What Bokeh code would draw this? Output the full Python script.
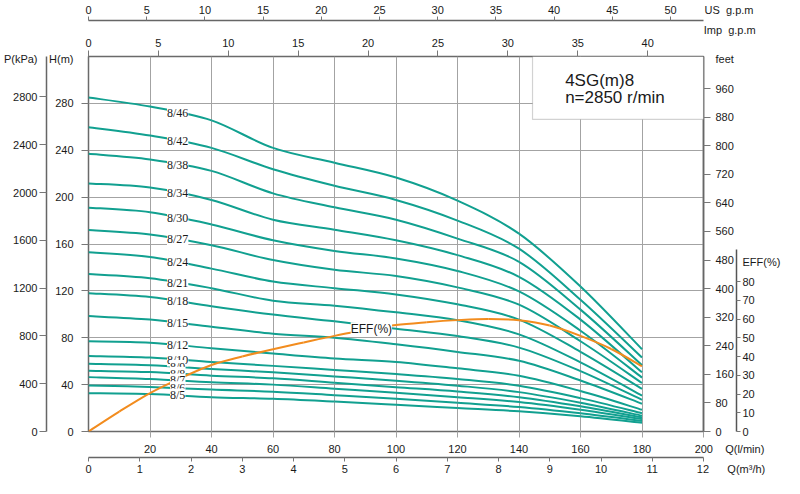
import numpy as np
from bokeh.plotting import figure
from bokeh.models import (Range1d, LinearAxis, FixedTicker, Label, LabelSet,
                          ColumnDataSource, BoxAnnotation)
from bokeh.embed import file_html
from bokeh.resources import INLINE

FONT = "Liberation Sans"
TXT = "#1a1a1a"
NB = "\u00a0"

# ---------------- data ----------------
q_lmin = [0, 20, 40, 60, 80, 100, 120, 140, 160, 180]

h_8_46 = [285.0, 277.3, 265.5, 242.0, 229.4, 216.7, 197.0, 168.8, 123.7, 70.2]
h_8_42 = [259.6, 252.5, 242.0, 223.8, 209.7, 197.6, 180.0, 156.0, 112.4, 63.1]
h_8_38 = [237.0, 232.2, 222.4, 203.2, 191.3, 180.7, 164.6, 144.8, 104.0, 56.6]
h_8_34 = [211.6, 208.2, 197.6, 180.7, 172.2, 163.2, 150.5, 132.0, 95.5, 50.5]
h_8_30 = [191.0, 187.1, 176.7, 163.2, 154.1, 147.7, 137.0, 119.5, 86.0, 46.0]
h_8_27 = [172.0, 168.2, 159.0, 146.3, 138.0, 132.7, 123.0, 108.2, 77.0, 41.4]
h_8_24 = [153.0, 149.0, 139.0, 128.0, 122.3, 117.0, 108.5, 95.5, 68.0, 36.4]
h_8_21 = [134.3, 130.8, 122.3, 111.6, 107.4, 101.7, 95.0, 82.9, 59.0, 30.7]
h_8_18 = [118.0, 114.7, 106.8, 99.8, 94.0, 87.7, 81.4, 71.6, 51.5, 27.0]
h_8_15 = [98.5, 95.5, 89.4, 83.4, 80.0, 74.4, 67.9, 60.3, 43.5, 23.7]
h_8_12 = [77.0, 75.8, 71.0, 66.5, 62.3, 59.4, 53.9, 47.6, 34.5, 18.5]
h_8_10 = [64.5, 63.1, 59.4, 56.0, 52.5, 49.0, 44.8, 39.1, 28.5, 15.5]
h_8_9 = [57.8, 56.6, 53.3, 50.5, 47.0, 43.4, 39.1, 33.6, 24.5, 13.5]
h_8_8 = [51.9, 50.7, 47.6, 45.4, 41.5, 37.8, 34.1, 29.3, 21.5, 12.0]
h_8_7 = [46.4, 44.8, 42.0, 40.0, 36.5, 33.0, 29.3, 25.1, 18.5, 10.5]
h_8_6 = [39.3, 38.0, 35.8, 34.0, 31.0, 27.9, 24.5, 20.9, 15.5, 9.0]
h_8_5 = [32.7, 31.9, 29.3, 27.9, 25.5, 22.8, 20.0, 17.2, 13.0, 7.5]

model_names = ["8/46", "8/42", "8/38", "8/34", "8/30", "8/27", "8/24", "8/21",
               "8/18", "8/15", "8/12", "8/10", "8/9", "8/8", "8/7", "8/6", "8/5"]
model_heads = [h_8_46, h_8_42, h_8_38, h_8_34, h_8_30, h_8_27, h_8_24, h_8_21,
               h_8_18, h_8_15, h_8_12, h_8_10, h_8_9, h_8_8, h_8_7, h_8_6, h_8_5]

eff_q = [0, 10, 20, 30, 40, 50, 60, 70, 80, 90, 100, 110, 120, 130, 140, 150, 160, 170, 180]
eff_pct = [0, 10.6, 20.5, 28.5, 35.5, 40.0, 43.9, 47.5, 51.0, 54.0, 56.8, 58.3, 59.4, 60.0,
           59.3, 56.5, 51.0, 44.0, 34.8]

lmin_ticks = [20, 40, 60, 80, 100, 120, 140, 160, 180, 200]
m3h_ticks = [0, 1, 2, 3, 4, 5, 6, 7, 8, 9, 10, 11, 12]
usgpm_ticks = [0, 5, 10, 15, 20, 25, 30, 35, 40, 45, 50]
impgpm_ticks = [0, 5, 10, 15, 20, 25, 30, 35, 40]
h_ticks = [0, 40, 80, 120, 160, 200, 240, 280]
kpa_ticks = [0, 400, 800, 1200, 1600, 2000, 2400, 2800]
feet_ticks = [0, 80, 160, 240, 320, 400, 480, 560, 640, 720, 800, 880, 960]
eff_ticks = [0, 10, 20, 30, 40, 50, 60, 70, 80]

title_lines = ["4SG(m)8", "n=2850 r/min"]

# unit titles, shown in the axes' label rows
t_us, t_imp = "US" + NB * 2 + "g.p.m", "Imp" + NB * 2 + "g.p.m"
t_lmin, t_m3h = "Q(l/min)", "Q(m³/h)"
t_h, t_kpa, t_feet, t_eff = "H(m)", "P(kPa)", "feet", "EFF(%)"

# ---------------- figure ----------------
W, H = 784, 478
FL, FR, FT, FB = 88, 703, 56, 431   # frame edges in canvas px

Q_MAX, H_MAX = 200, 320
US_MAX = Q_MAX / 3.785411784
IMP_MAX = Q_MAX / 4.54609
p = figure(width=W, height=H, x_range=Range1d(0, Q_MAX), y_range=Range1d(0, H_MAX),
           output_backend="svg", toolbar_location=None,
           min_border_left=FL, min_border_right=W - FR,
           min_border_top=FT, min_border_bottom=H - FB)
p.background_fill_color = "white"
p.border_fill_color = "white"
p.outline_line_color = "#6a6a6a"
p.outline_line_width = 1.5

p.extra_x_ranges = {
    "usgpm": Range1d(0, US_MAX),
    "impgpm": Range1d(0, IMP_MAX),
    "m3h": Range1d(0, Q_MAX * 60 / 1000),
}
p.extra_y_ranges = {
    "kpa": Range1d(0, H_MAX * 9.80665),
    "feet": Range1d(0, H_MAX / 0.3048),
    "eff": Range1d(0, 200),
}

GRID = "#a3a3a3"
p.xgrid.ticker = FixedTicker(ticks=[t for t in lmin_ticks if t < Q_MAX])
p.ygrid.ticker = FixedTicker(ticks=[t for t in h_ticks if t > 0])
p.xgrid.grid_line_color = GRID
p.ygrid.grid_line_color = GRID


def style_axis(ax, ticks, tick_out, standoff, line_color, title_at=None, title=None,
               tick_color="#777"):
    """Visible tick marks are drawn as minor ticks; the major ticks only carry the
    labels, so an extra (mark-less) label can hold the unit title."""
    majors = list(ticks) + ([title_at] if title_at is not None else [])
    ax.ticker = FixedTicker(ticks=majors, minor_ticks=list(ticks))
    ax.major_tick_out = tick_out
    ax.major_tick_in = 0
    ax.minor_tick_out = tick_out
    ax.minor_tick_in = 0
    ax.major_tick_line_color = None
    ax.minor_tick_line_color = tick_color
    ax.major_label_standoff = standoff
    ax.major_label_text_font = FONT
    ax.major_label_text_font_size = "11px"
    ax.major_label_text_color = TXT
    ax.axis_line_color = line_color
    ax.axis_line_width = 1.5
    if title_at is not None:
        ax.major_label_overrides = {title_at: title}


# bottom: l/min (closest), then m3/h ; titles sit right of the last tick label
ax_lmin = p.xaxis[0]
style_axis(ax_lmin, lmin_ticks, 6, 5, None, tick_color=GRID)
ax_lmin.major_label_overrides = {200: NB * 17 + "200" + NB * 4 + t_lmin}
ax_m3h = LinearAxis(x_range_name="m3h")
style_axis(ax_m3h, m3h_ticks, 4, 1, "#666")
ax_m3h.major_label_overrides = {12: NB * 18 + "12" + NB * 6 + t_m3h}
p.add_layout(ax_m3h, "below")

# left: H (closest), then kPa
ax_h = p.yaxis[0]
style_axis(ax_h, h_ticks, 7, 8, None, title_at=318, title=t_h)
ax_kpa = LinearAxis(y_range_name="kpa")
style_axis(ax_kpa, kpa_ticks, 7, 2, "#666", title_at=3120, title=t_kpa)
p.add_layout(ax_kpa, "left")

# top: Imp gpm (closest; its title sits one line above its numbers), then US gpm
ax_imp = LinearAxis(x_range_name="impgpm")
style_axis(ax_imp, impgpm_ticks, 6, 2, None, title_at=43.9,
           title=NB * 18 + t_imp + "\n" + NB)
ax_imp.major_label_text_line_height = 1.05
p.add_layout(ax_imp, "above")
ax_us = LinearAxis(x_range_name="usgpm")
style_axis(ax_us, usgpm_ticks, 4, 1, "#666", title_at=52.8, title=NB * 17 + t_us)
p.add_layout(ax_us, "above")

# right: feet (closest), then EFF
ax_ft = LinearAxis(y_range_name="feet")
style_axis(ax_ft, feet_ticks, 7, 5, "#666", title_at=1043, title=t_feet)
p.add_layout(ax_ft, "right")
ax_eff = LinearAxis(y_range_name="eff", bounds=(0, 97))
style_axis(ax_eff, eff_ticks, 4, 2, "#555", title_at=90.5, title=t_eff)
p.add_layout(ax_eff, "right")


# ---------------- curves (smooth Bezier through the read points) ----------------
def bezier_through(xs, ys):
    xs = np.asarray(xs, float)
    ys = np.asarray(ys, float)
    n = len(xs)
    seg = dict(x0=[], y0=[], x1=[], y1=[], cx0=[], cy0=[], cx1=[], cy1=[])
    for i in range(n - 1):
        a, b = max(i - 1, 0), min(i + 2, n - 1)
        seg["x0"].append(xs[i]); seg["y0"].append(ys[i])
        seg["x1"].append(xs[i + 1]); seg["y1"].append(ys[i + 1])
        seg["cx0"].append(xs[i] + (xs[i + 1] - xs[a]) / 6)
        seg["cy0"].append(ys[i] + (ys[i + 1] - ys[a]) / 6)
        seg["cx1"].append(xs[i + 1] - (xs[b] - xs[i]) / 6)
        seg["cy1"].append(ys[i + 1] - (ys[b] - ys[i]) / 6)
    return seg


TEAL = "#11a090"
ORANGE = "#f28c1e"
for heads in model_heads:
    p.bezier(source=ColumnDataSource(bezier_through(q_lmin, heads)),
             x0="x0", y0="y0", x1="x1", y1="y1", cx0="cx0", cy0="cy0",
             cx1="cx1", cy1="cy1", line_color=TEAL, line_width=2)
p.bezier(source=ColumnDataSource(bezier_through(eff_q, eff_pct)),
         x0="x0", y0="y0", x1="x1", y1="y1", cx0="cx0", cy0="cy0",
         cx1="cx1", cy1="cy1", line_color=ORANGE, line_width=2, y_range_name="eff")

# curve labels, sitting on each curve
LABEL_Q = 29
lab_src = ColumnDataSource(dict(
    x=[LABEL_Q] * len(model_names),
    y=[float(np.interp(LABEL_Q, q_lmin, h)) for h in model_heads],
    t=model_names))
p.add_layout(LabelSet(x="x", y="y", text="t", source=lab_src,
                      text_align="center", text_baseline="middle",
                      text_font=FONT, text_font_size="12px", text_color=TXT,
                      background_fill_color="white", background_fill_alpha=1.0))

EFF_LABEL_Q = 92
p.add_layout(Label(x=EFF_LABEL_Q, y=float(np.interp(EFF_LABEL_Q, eff_q, eff_pct)),
                   y_range_name="eff", text="EFF(%)", text_align="center",
                   text_baseline="middle", text_font=FONT, text_font_size="12px",
                   text_color=TXT, background_fill_color="white",
                   background_fill_alpha=1.0))

# ---------------- title box ----------------
BOX_LEFT_Q, BOX_BOTTOM_H = 144.4, 266.3
p.add_layout(BoxAnnotation(left=BOX_LEFT_Q, right=Q_MAX, bottom=BOX_BOTTOM_H, top=H_MAX,
                           fill_color="white", fill_alpha=1.0,
                           line_color="#6a6a6a", line_width=1.2, level="annotation"))
for t, yy in zip(title_lines, [299.7, 284.9]):
    p.add_layout(Label(x=155, y=yy, text=t, text_align="left",
                       text_baseline="middle", text_font=FONT, text_font_size="17px",
                       text_color=TXT))

open("out.html", "w").write(file_html(p, INLINE))
